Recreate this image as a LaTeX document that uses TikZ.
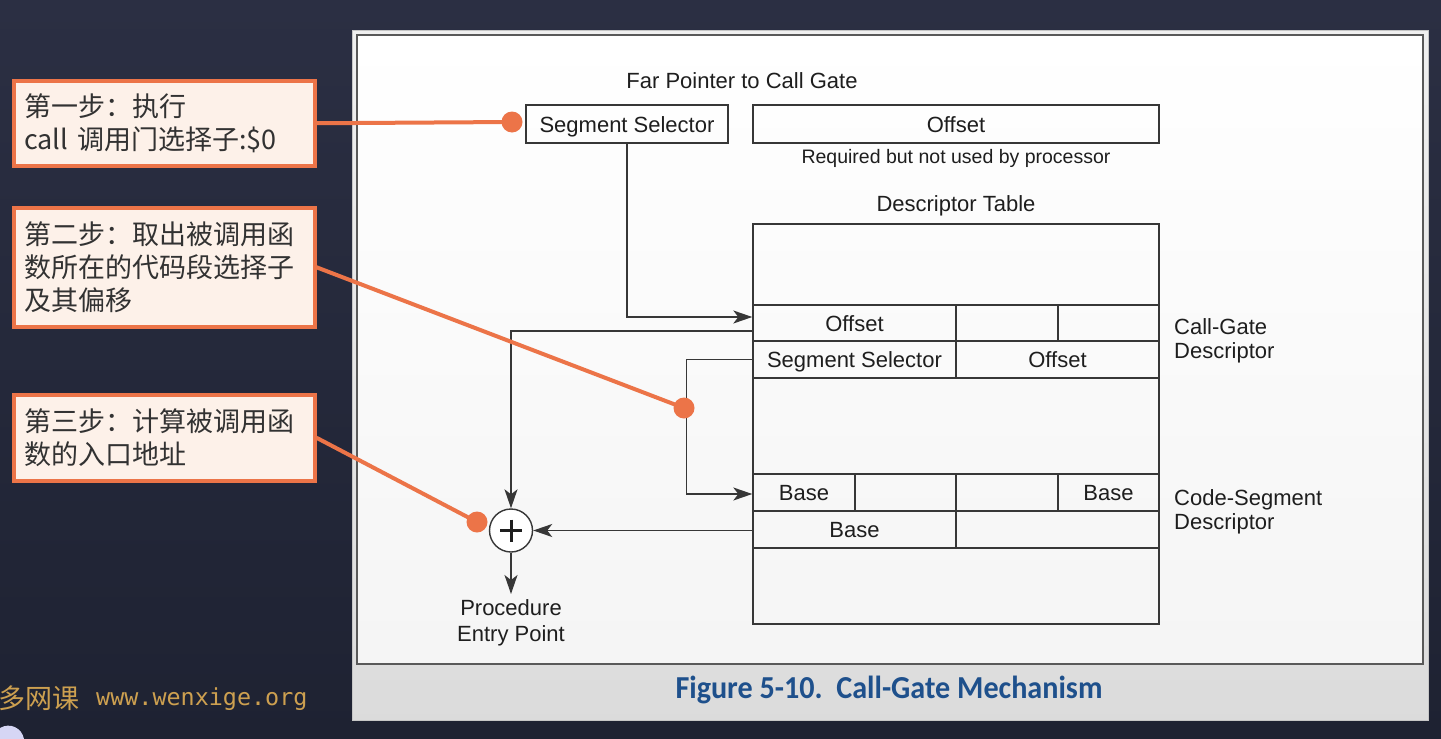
\documentclass[tikz,border=0pt]{standalone}
\usepackage{fontspec}
\usepackage{graphicx}
\setmainfont{Liberation Sans}
\newfontfamily\cjkfont{Noto Sans CJK SC}
\newfontfamily\capfont{Carlito}
\newfontfamily\wmmono{DejaVu Sans Mono}
\usetikzlibrary{arrows.meta,calc}
\definecolor{bgtop}{RGB}{43,47,67}
\definecolor{bgbot}{RGB}{30,34,50}
\definecolor{linec}{RGB}{55,55,55}
\definecolor{txtc}{RGB}{30,30,30}
\definecolor{orng}{RGB}{236,116,72}
\definecolor{peach}{RGB}{253,241,233}
\definecolor{calltxt}{RGB}{50,50,50}
\definecolor{capblue}{RGB}{30,80,140}
\definecolor{gold}{RGB}{205,160,80}
\newcommand\szmain{\fontsize{22}{26}\selectfont}
\newcommand\szlbl{\fontsize{22}{24}\selectfont}
\newcommand\szsmall{\fontsize{19.5}{23}\selectfont}
\newcommand\szcjk{\fontsize{27}{33}\selectfont}
\tikzset{myarrowtip/.tip={Stealth[length=19pt,width=13pt,inset=5pt]}}
\begin{document}
\begin{tikzpicture}[x=1pt,y=-1pt,
  cell/.style={draw=linec,line width=1.4pt,inner sep=0pt,font=\szmain,text=txtc,text height=16pt,text depth=0pt},
  lbl/.style={inner sep=0pt,font=\szmain,text=txtc},
  conn/.style={draw=linec,line width=1.4pt},
  arr/.style={-myarrowtip},
  callout/.style={draw=orng,line width=3.5pt,fill=peach,anchor=north west,
    minimum width=301pt,text width=280pt,inner xsep=10.5pt,inner ysep=0pt,
    align=left,font=\cjkfont\szcjk,text=calltxt},
  oline/.style={draw=orng,line width=4pt},
  odot/.style={circle,fill=orng,inner sep=0pt,minimum size=21pt}]
\useasboundingbox (0,0) rectangle (1441,739);
% background
\shade[top color=bgtop,bottom color=bgbot] (0,0) rectangle (1441,739);
% figure panel
\shade[top color=gray!12,bottom color=gray!28,draw=gray!45,line width=1pt] (352,30) rectangle (1428,720);
\shade[top color=white,bottom color=gray!8,draw=gray!70!black,line width=1.5pt] (357,35) rectangle (1423,664);
\node[inner sep=0pt,text=capblue] (cap) at (889,690) {\resizebox{427pt}{\height}{\capfont\bfseries\fontsize{32}{36}\selectfont Figure 5-10.\ \ Call-Gate Mechanism}};
% far pointer
\node[lbl] (fptitle) at (742,81) {Far Pointer to Call Gate};
\node[cell,minimum width=202pt,minimum height=38pt] (ss) at (627,124) {Segment Selector};
\node[cell,minimum width=406pt,minimum height=38pt] (off) at (956,124) {Offset};
\node[lbl,font=\szsmall] (req) at (956,158) {Required but not used by processor};
% descriptor table
\node[lbl] (dttitle) at (956,206) {Descriptor Table};
\node[cell,minimum width=406pt,minimum height=400pt] (dt) at (956,424) {};
\node[cell,minimum width=203pt,minimum height=36pt] (cgOff) at (854.5,323) {Offset};
\node[cell,minimum width=102pt,minimum height=36pt] (cgB) at (1007,323) {};
\node[cell,minimum width=101pt,minimum height=36pt] (cgC) at (1108.5,323) {};
\node[cell,minimum width=203pt,minimum height=37pt] (cgSel) at (854.5,359.5) {Segment Selector};
\node[cell,minimum width=203pt,minimum height=37pt] (cgOff2) at (1057.5,359.5) {Offset};
\node[cell,minimum width=102pt,minimum height=37pt] (csBase1) at (804,492.5) {Base};
\node[cell,minimum width=101pt,minimum height=37pt] (csB) at (905.5,492.5) {};
\node[cell,minimum width=102pt,minimum height=37pt] (csC) at (1007,492.5) {};
\node[cell,minimum width=101pt,minimum height=37pt] (csBase2) at (1108.5,492.5) {Base};
\node[cell,minimum width=203pt,minimum height=37pt] (csBase3) at (854.5,529.5) {Base};
\node[cell,minimum width=203pt,minimum height=37pt] (csE) at (1057.5,529.5) {};
\node[lbl,anchor=west,align=left,font=\szlbl] (cglbl) at (1174,341) {Call-Gate\\Descriptor};
\node[lbl,anchor=west,align=left,font=\szlbl] (cslbl) at (1174,512) {Code-Segment\\Descriptor};
% adder
\node[circle,draw=linec,line width=1.4pt,fill=white,minimum size=43pt,inner sep=0pt] (plus) at (511,530.5) {};
\draw[line width=3pt,txtc] ($(plus.center)+(-11,0)$) -- ($(plus.center)+(11,0)$);
\draw[line width=3pt,txtc] ($(plus.center)+(0,-11)$) -- ($(plus.center)+(0,11)$);
\coordinate (pep) at (511,594);
\node[lbl,align=center,font=\szmain,anchor=north] (entry) at (511,599) {Procedure\\Entry Point};
% connectors
\draw[conn,arr] (ss.south) |- ($(cgOff.west)+(0,-6)$);
\draw[conn,arr] ($(cgOff.west)+(0,8)$) -| (plus.north);
\draw[conn,arr] (cgSel.west) -- ++(-66,0) |- ($(csBase1.west)+(0,1.5)$);
\draw[conn,arr] (csBase3.west |- plus.east) -- (plus.east);
\draw[conn,arr] (plus.south) -- (pep);
% callouts
\node[callout,minimum height=85pt] (c1) at (12,79) {第一步：执行\\call 调用门选择子:\$0};
\node[callout,minimum height=119pt] (c2) at (12,206) {第二步：取出被调用函\\数所在的代码段选择子\\及其偏移};
\node[callout,minimum height=86pt] (c3) at (12,393) {第三步：计算被调用函\\数的入口地址};
\node[odot] (d1) at (512,122) {};
\node[odot] (d2) at (684,408) {};
\node[odot] (d3) at (477,522) {};
\draw[oline] (c1.east) -- (d1.center);
\draw[oline] (c2.east) -- (d2.center);
\draw[oline] (c3.east) -- (d3.center);
% watermark
\node[anchor=west,inner sep=0pt,text=gold,font=\cjkfont\fontsize{27}{30}\selectfont] (wm1) at (-2,698) {多网课};
\node[anchor=west,inner sep=0pt,text=gold,font=\wmmono\fontsize{23.4}{26}\selectfont] (wm2) at (96,699) {www.wenxige.org};
\fill[gray!40!blue!20] (0,728) .. controls (10,722) and (22,728) .. (24,739) -- (0,739) -- cycle;
\end{tikzpicture}
\end{document}
